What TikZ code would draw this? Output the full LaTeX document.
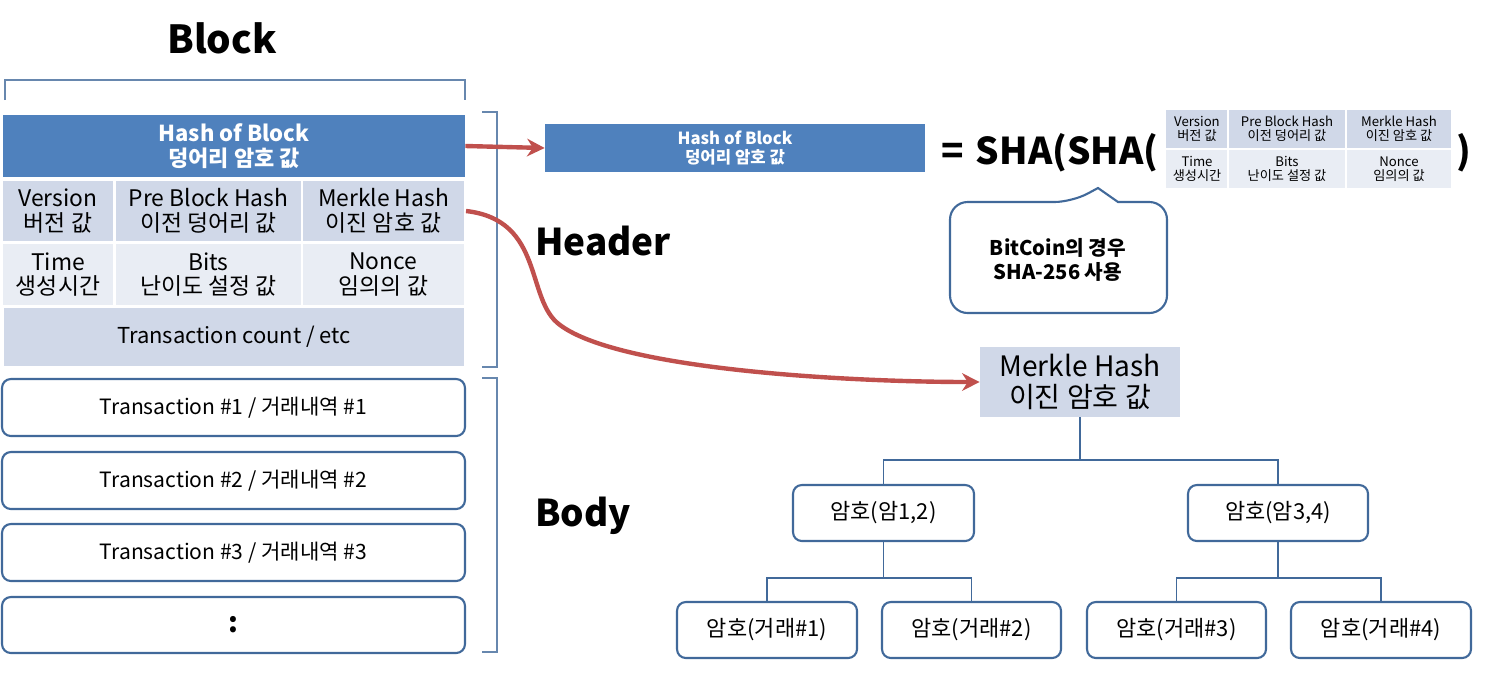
\documentclass[tikz,border=0pt]{standalone}
\usepackage{fontspec}
\setmainfont{Noto Sans CJK KR}
\usetikzlibrary{arrows.meta}
\definecolor{hb}{HTML}{4F81BD}
\definecolor{c1}{HTML}{D0D8E8}
\definecolor{c2}{HTML}{E9EDF4}
\definecolor{bd}{HTML}{41699A}
\definecolor{rd}{HTML}{C0504D}
\begin{document}
\begin{tikzpicture}[x=0.02cm,y=-0.02cm,
 cell/.style={draw=white,line width=1.2pt,inner sep=0pt,align=center,font=\fontsize{13}{14}\selectfont},
 tx/.style={draw=bd,line width=1.2pt,rounded corners=5pt,fill=white,font=\fontsize{12}{14}\selectfont},
 tn/.style={draw=bd,line width=1.2pt,rounded corners=5pt,fill=white,font=\fontsize{12.5}{14}\selectfont,minimum height=1.12cm},
 sc/.style={draw=white,line width=0.6pt,inner sep=0pt,align=center,font=\fontsize{7.5}{8}\selectfont},
 br/.style={draw=bd!80,line width=1pt},
 ln/.style={draw=bd,line width=1pt},
 ar/.style={draw=rd,line width=2.5pt,-{Stealth[length=10pt,width=10pt]}},
 big/.style={font=\bfseries\fontsize{21}{24}\selectfont}]
\useasboundingbox (0,0) rectangle (1485,674);
\node[big,font=\bfseries\fontsize{22}{24}\selectfont] (block) at (222,38) {Block};
\draw[br] (5,100) -- (5,80) -- (465,80) -- (465,100);
\node[fill=hb,minimum width=9.24cm,minimum height=1.24cm,inner sep=0pt,align=center,text=white,font=\bfseries\fontsize{12.5}{14}\selectfont] (hash) at (234,146) {Hash of Block\\덩어리 암호 값};
\node[cell,fill=c1,minimum width=2.24cm,minimum height=1.24cm] (v) at (58,211) {Version\\버전 값};
\node[cell,fill=c1,minimum width=3.74cm,minimum height=1.24cm] (p) at (208.5,211) {Pre Block Hash\\이전 덩어리 값};
\node[cell,fill=c1,minimum width=3.26cm,minimum height=1.24cm] (m) at (383.5,211) {Merkle Hash\\이진 암호 값};
\node[cell,fill=c2,minimum width=2.24cm,minimum height=1.28cm] (t) at (58,274.5) {Time\\생성시간};
\node[cell,fill=c2,minimum width=3.74cm,minimum height=1.28cm] (b) at (208.5,274.5) {Bits\\난이도 설정 값};
\node[cell,fill=c2,minimum width=3.26cm,minimum height=1.28cm] (n) at (383.5,274.5) {Nonce\\임의의 값};
\node[cell,fill=c1,minimum width=9.24cm,minimum height=1.2cm,font=\fontsize{12.5}{14}\selectfont] (tc) at (234,337) {Transaction count / etc};
\draw[br] (482,112) -- (497,112) -- (497,367) -- (482,367);
\draw[br] (482,378) -- (497,378) -- (497,652) -- (482,652);
\node[tx,minimum width=9.26cm,minimum height=1.14cm] (t1) at (233.5,407.5) {Transaction \#1 / 거래내역 \#1};
\node[tx,minimum width=9.26cm,minimum height=1.14cm] (t2) at (233.5,480.5) {Transaction \#2 / 거래내역 \#2};
\node[tx,minimum width=9.26cm,minimum height=1.14cm] (t3) at (233.5,552.5) {Transaction \#3 / 거래내역 \#3};
\node[tx,minimum width=9.26cm,minimum height=1.12cm,font=\bfseries\fontsize{16}{18}\selectfont] (t4) at (233.5,625) {:};
\node[big] (hd) at (603,241) {Header};
\node[big] (bo) at (583,516) {Body};
\node[fill=hb,minimum width=7.6cm,minimum height=0.96cm,inner sep=0pt,align=center,text=white,font=\bfseries\fontsize{9.5}{10.5}\selectfont] (hash2) at (735,148) {Hash of Block\\덩어리 암호 값};
\draw[ar] (hash.east) -- (hash2.west);
\node[big,anchor=west] (sha) at (935,153) {=\,\,SHA(SHA(};
\node[sc,fill=c1,minimum width=1.26cm,minimum height=0.8cm] (s1) at (1197,129) {Version\\버전 값};
\node[sc,fill=c1,minimum width=2.36cm,minimum height=0.8cm] (s2) at (1287,129) {Pre Block Hash\\이전 덩어리 값};
\node[sc,fill=c1,minimum width=2.12cm,minimum height=0.8cm] (s3) at (1399,129) {Merkle Hash\\이진 암호 값};
\node[sc,fill=c2,minimum width=1.26cm,minimum height=0.8cm] (s4) at (1197,169) {Time\\생성시간};
\node[sc,fill=c2,minimum width=2.36cm,minimum height=0.8cm] (s5) at (1287,169) {Bits\\난이도 설정 값};
\node[sc,fill=c2,minimum width=2.12cm,minimum height=0.8cm] (s6) at (1399,169) {Nonce\\임의의 값};
\node[big,anchor=west] (cp) at (1450,153) {)};
\draw[draw=bd,line width=1.2pt,fill=white,rounded corners=10pt] (1072,202) [sharp corners]-- (1098,188) -- (1118,202) [rounded corners=10pt]-- (1167,202) -- (1167,313) -- (950,313) -- (950,202) -- cycle;
\node[align=center,font=\bfseries\fontsize{11.5}{14}\selectfont] (cal) at (1058,260) {BitCoin의 경우\\SHA-256 사용};
\node[fill=c1,minimum width=4cm,minimum height=1.4cm,inner sep=0pt,align=center,font=\fontsize{16}{18}\selectfont] (mk) at (1080,382) {Merkle Hash\\이진 암호 값};
\draw[ar] (m.east) .. controls (545,220) and (525,300) .. (560,325) .. controls (620,370) and (850,382) .. (mk.west);
\node[tn,minimum width=3.62cm] (a12) at (883.5,513) {암호(암1,2)};
\node[tn,minimum width=3.6cm] (a34) at (1278,513) {암호(암3,4)};
\node[tn,minimum width=3.6cm] (l1) at (767,630) {암호(거래\#1)};
\node[tn,minimum width=3.58cm] (l2) at (971.5,630) {암호(거래\#2)};
\node[tn,minimum width=3.58cm] (l3) at (1176.5,630) {암호(거래\#3)};
\node[tn,minimum width=3.6cm] (l4) at (1381,630) {암호(거래\#4)};
\draw[ln] (mk.south) -- (1080,460) -| (a12.north);
\draw[ln] (1080,460) -| (a34.north);
\draw[ln] (a12.south) -- (883.5,578) -| (l1.north);
\draw[ln] (883.5,578) -| (l2.north);
\draw[ln] (a34.south) -- (1278,578) -| (l3.north);
\draw[ln] (1278,578) -| (l4.north);
\end{tikzpicture}
\end{document}
